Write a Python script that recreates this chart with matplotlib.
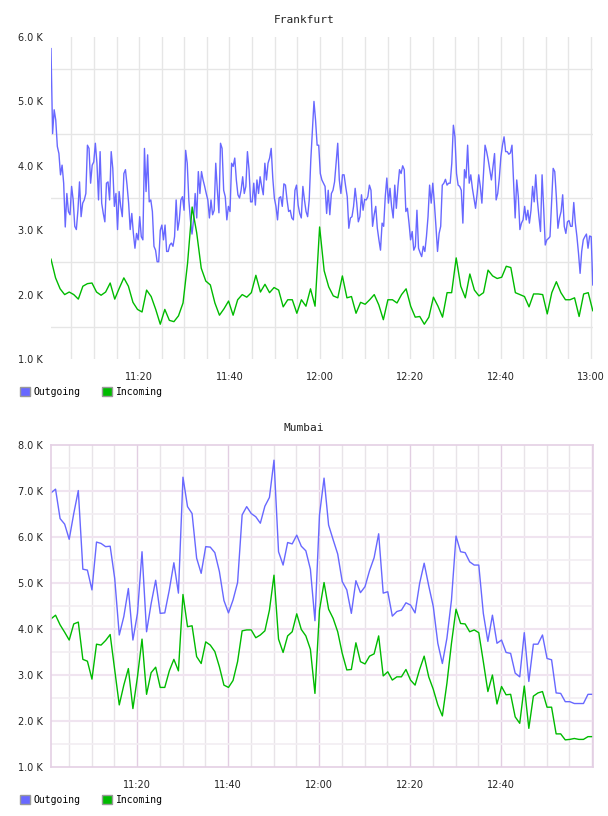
import numpy as np
import matplotlib
matplotlib.use("Agg")
import matplotlib.pyplot as plt
from matplotlib.patches import Patch

# values in thousands, sampled evenly over 11:00 - 13:00
frankfurt_out = [
    5.82, 4.50, 4.87, 4.71, 4.30, 4.19, 3.86, 4.01, 3.73, 3.05, 3.57, 3.29, 3.24, 3.68, 3.47, 3.06,
    3.01, 3.31, 3.75, 3.21, 3.42, 3.47, 3.57, 4.32, 4.27, 3.73, 4.01, 4.06, 4.35, 4.04, 3.47, 4.22,
    3.42, 3.26, 3.13, 3.73, 3.75, 3.47, 4.22, 3.96, 3.37, 3.57, 3.01, 3.60, 3.37, 3.21, 3.88, 3.94,
    3.70, 3.42, 3.01, 3.26, 2.95, 2.72, 2.95, 2.85, 3.21, 2.90, 2.85, 4.27, 3.60, 4.17, 3.44, 3.47,
    3.29, 2.75, 2.69, 2.51, 2.51, 3.00, 3.08, 2.85, 3.08, 2.67, 2.67, 2.77, 2.80, 2.75, 2.90, 3.47,
    3.00, 3.16, 3.47, 3.52, 3.31, 4.24, 4.04, 3.47, 3.16, 2.94, 3.16, 3.57, 3.19, 3.91, 3.57, 3.91,
    3.78, 3.68, 3.57, 3.47, 3.19, 3.47, 3.24, 3.31, 4.04, 3.62, 3.27, 4.35, 4.27, 3.62, 3.52, 3.16,
    3.37, 3.29, 4.04, 3.99, 4.12, 3.78, 3.55, 3.50, 3.62, 3.83, 3.57, 3.68, 4.22, 3.94, 3.44, 3.44,
    3.73, 3.39, 3.78, 3.57, 3.83, 3.68, 3.55, 4.04, 3.78, 4.04, 4.12, 4.27, 3.81, 3.50, 3.37, 3.16,
    3.50, 3.52, 3.37, 3.72, 3.70, 3.47, 3.29, 3.31, 3.19, 3.16, 3.62, 3.70, 3.39, 3.26, 3.19, 3.68,
    3.47, 3.29, 3.21, 3.47, 4.09, 4.56,
    5.00, 4.71, 4.32, 4.32, 3.88, 3.78, 3.73, 3.68, 3.26, 3.62, 3.24, 3.57, 3.62, 3.75, 4.04, 4.35,
    3.78, 3.57, 3.86, 3.86, 3.68, 3.52, 3.03, 3.19, 3.21, 3.37, 3.65, 3.42, 3.13, 3.21, 3.55, 3.31,
    3.48, 3.47, 3.52, 3.70, 3.62, 3.06, 3.24, 3.37, 3.03, 2.85, 2.69, 3.11, 3.06, 3.52, 3.81, 3.42,
    3.65, 3.37, 3.19, 3.70, 3.34, 3.68, 3.94, 3.88, 4.00, 3.94, 3.29, 3.34, 3.11, 2.85, 2.98, 2.69,
    2.75, 3.31, 2.72, 2.65, 2.59, 2.75, 2.67, 2.90, 3.21, 3.70, 3.42, 3.73, 3.42, 3.06, 2.67, 2.95,
    3.06, 3.70, 3.73, 3.79, 3.70, 3.73, 3.73,
    4.04, 4.63, 4.45, 3.88, 3.70, 3.68, 3.62, 3.11, 3.94, 3.81, 4.32, 3.73, 3.86, 3.65, 3.50, 3.34,
    3.57, 3.86, 3.68, 3.42, 3.88, 4.32, 4.22, 4.09, 3.94, 3.78, 3.99, 4.19, 3.47, 3.57, 3.81, 4.14,
    4.32, 4.45, 4.22, 4.22, 4.18, 4.20, 4.32, 3.75, 3.19, 3.78, 3.52, 3.01, 3.11, 3.16, 3.37, 3.16,
    3.31, 3.11, 3.31, 3.68, 3.44, 3.86, 3.47, 3.21, 2.98, 3.86, 3.34, 2.77, 2.85, 2.87, 2.90, 3.42,
    3.96, 3.91, 3.52, 3.03, 3.19, 3.29, 3.55, 3.06, 2.95, 3.13, 3.15, 3.06, 3.06, 3.43, 3.11, 2.90,
    2.64, 2.33, 2.67, 2.85, 2.90, 2.94, 2.72, 2.91, 2.90, 2.15,
]
frankfurt_in = [
    2.55, 2.26, 2.09, 2.00, 2.04, 2.00, 1.93, 2.13, 2.17, 2.18, 2.04, 1.99, 2.04, 2.18, 1.93, 2.10,
    2.26, 2.13, 1.88, 1.77, 1.73, 2.07, 1.97, 1.77, 1.54, 1.77, 1.60, 1.58, 1.67, 1.87, 2.49, 3.36,
    2.96, 2.41, 2.21, 2.15, 1.87, 1.68, 1.78, 1.90, 1.68, 1.92, 2.00, 1.96, 2.03, 2.30, 2.04, 2.16,
    2.03, 2.11, 2.07, 1.81, 1.92, 1.92, 1.71, 1.92, 1.82, 2.09, 1.82, 3.05, 2.37, 2.12, 1.98, 1.95,
    2.29, 1.95, 1.97, 1.71, 1.88, 1.85, 1.92, 2.00, 1.84, 1.61, 1.92, 1.92, 1.87, 2.00, 2.09, 1.82,
    1.65, 1.66, 1.54, 1.65, 1.96, 1.82, 1.65, 2.03, 2.03, 2.57, 2.13, 1.95, 2.32, 2.07, 1.98, 2.03,
    2.38, 2.29, 2.25, 2.27, 2.44, 2.42, 2.03, 2.00, 1.97, 1.81, 2.01, 2.01, 2.00, 1.70, 2.03, 2.20,
    2.03, 1.92, 1.92, 1.95, 1.66, 2.01, 2.03, 1.75,
]
mumbai_out = [
    6.96, 7.04, 6.40, 6.28, 5.95, 6.51, 7.01, 5.30, 5.28, 4.85, 5.89, 5.86, 5.79, 5.80, 5.10, 3.87,
    4.27, 4.88, 3.76, 4.34, 5.68, 3.94, 4.55, 5.06, 4.34, 4.35, 4.85, 5.44, 4.78, 7.30, 6.66, 6.51,
    5.54, 5.21, 5.79, 5.78, 5.66, 5.25, 4.62, 4.35, 4.63, 5.01, 6.48, 6.66, 6.51, 6.44, 6.30, 6.67,
    6.86, 7.67, 5.68, 5.39, 5.88, 5.85, 6.04, 5.80, 5.70, 5.30, 4.18, 6.48, 7.28, 6.26, 5.94, 5.63,
    5.03, 4.85, 4.34, 5.05, 4.79, 4.92, 5.27, 5.55, 6.07, 4.78, 4.81, 4.28, 4.38, 4.41, 4.57, 4.52,
    4.35, 4.99, 5.43, 4.94, 4.49, 3.69, 3.25, 3.80, 4.63, 6.02, 5.68, 5.66, 5.46, 5.39, 5.39, 4.34,
    3.73, 4.30, 3.69, 3.76, 3.49, 3.47, 3.04, 2.96, 3.92, 2.86, 3.67, 3.67, 3.87, 3.36, 3.33, 2.61,
    2.60, 2.42, 2.42, 2.38, 2.38, 2.38, 2.58, 2.58,
]
mumbai_in = [
    4.22, 4.30, 4.09, 3.93, 3.76, 4.11, 4.15, 3.34, 3.30, 2.91, 3.67, 3.65, 3.75, 3.88, 3.11, 2.35,
    2.78, 3.14, 2.27, 2.96, 3.78, 2.58, 3.05, 3.17, 2.73, 2.73, 3.09, 3.34, 3.09, 4.75, 4.05, 4.07,
    3.40, 3.25, 3.72, 3.65, 3.51, 3.18, 2.78, 2.73, 2.88, 3.29, 3.96, 3.98, 3.98, 3.81, 3.87, 3.96,
    4.41, 5.17, 3.78, 3.49, 3.85, 3.94, 4.33, 3.99, 3.85, 3.56, 2.60, 4.41, 5.01, 4.43, 4.23, 3.94,
    3.47, 3.11, 3.12, 3.70, 3.29, 3.24, 3.41, 3.46, 3.85, 2.98, 3.07, 2.89, 2.96, 2.96, 3.12, 2.89,
    2.78, 3.12, 3.41, 2.96, 2.69, 2.35, 2.11, 2.82, 3.69, 4.43, 4.12, 4.11, 3.94, 3.98, 3.92, 3.29,
    2.64, 3.00, 2.37, 2.75, 2.57, 2.58, 2.09, 1.95, 2.76, 1.84, 2.54, 2.61, 2.64, 2.30, 2.30, 1.72,
    1.72, 1.59, 1.60, 1.62, 1.60, 1.60, 1.66, 1.66,
]
series_names = ["Outgoing", "Incoming"]
time_labels = ["11:20", "11:40", "12:00", "12:20", "12:40", "13:00"]

BLUE = "#6868ff"
GREEN = "#00bb00"
MONO = "DejaVu Sans Mono"


def minutes(start, end, n):
    # minutes after 11:00
    return np.linspace(start, end, n)


def style_axis(ax, ymax, xlim, nlabels, boxed):
    ax.set_xlim(*xlim)
    ax.set_ylim(1, ymax)
    for s in ax.spines.values():
        s.set_visible(boxed)
        s.set_color("#e4d0e4")
        s.set_linewidth(1.2)

    minor = "#e8e4e8" if boxed else "#e6e6e6"
    major = "#e2cee2" if boxed else "#e6e6e6"
    for m in range(5, 121, 5):
        if xlim[0] < m <= xlim[1] - 0.1:
            ax.axvline(m, color=major if m % 20 == 0 else minor, lw=1.0, zorder=0)
    if boxed:
        for v in np.arange(1.5, ymax, 0.5):
            ax.axhline(v, color="#f0e4f0" if v % 1 == 0 else "#f2eef2", lw=1.5 if v % 1 == 0 else 1.2, zorder=0)
    else:
        for v in np.arange(1.5, ymax, 1.0):
            ax.axhline(v, color="#e6e6e6", lw=1.0, zorder=0)

    ax.set_yticks(range(1, ymax + 1))
    ax.set_yticklabels([f"{v:.1f} K" for v in range(1, ymax + 1)])
    ticks = list(range(20, 20 * nlabels + 1, 20))
    ax.set_xticks(ticks)
    ax.set_xticklabels(time_labels[:nlabels])
    ax.tick_params(length=0, labelsize=7, colors="#222222")
    ax.tick_params(axis="y", pad=6)
    ax.tick_params(axis="x", pad=9)


def draw_panel(fig, rect, title, out, inc, ymax, xlim, tstart, tend, nlabels, boxed, legend_y):
    ax = fig.add_axes(rect)
    style_axis(ax, ymax, xlim, nlabels, boxed)
    ax.plot(minutes(tstart, tend, len(out)), out, color=BLUE, lw=1.0)
    ax.plot(minutes(tstart, tend, len(inc)), inc, color=GREEN, lw=1.0)
    top = rect[1] + rect[3]
    fig.text(0.5, top + 17 / 816, title, ha="center", va="center", family=MONO, fontsize=8, color="#222222")
    handles = [Patch(facecolor=BLUE, edgecolor="#999999"), Patch(facecolor=GREEN, edgecolor="#999999")]
    fig.legend(handles, series_names, loc="center left", bbox_to_anchor=(20 / 608, legend_y), ncol=2,
               frameon=False, prop={"family": MONO, "size": 7}, handlelength=1.0, handleheight=1.0,
               handletextpad=0.4, columnspacing=2.2, borderpad=0, borderaxespad=0)
    return ax


def main():
    fig = plt.figure(figsize=(6.08, 8.16), dpi=100)
    w = 542 / 608
    h = 322 / 816
    draw_panel(fig, [51 / 608, 1 - 359 / 816, w, h], "Frankfurt", frankfurt_out, frankfurt_in,
               6, (0.5, 120.45), 0.5, 120.4, 6, False, 1 - 392 / 816)
    draw_panel(fig, [51 / 608, 1 - 767 / 816, w, h], "Mumbai", mumbai_out, mumbai_in,
               8, (1.1, 120.2), 1.1, 120.1, 5, True, 1 - 800 / 816)
    fig.savefig("out.png", dpi=100)


if __name__ == "__main__":
    main()
